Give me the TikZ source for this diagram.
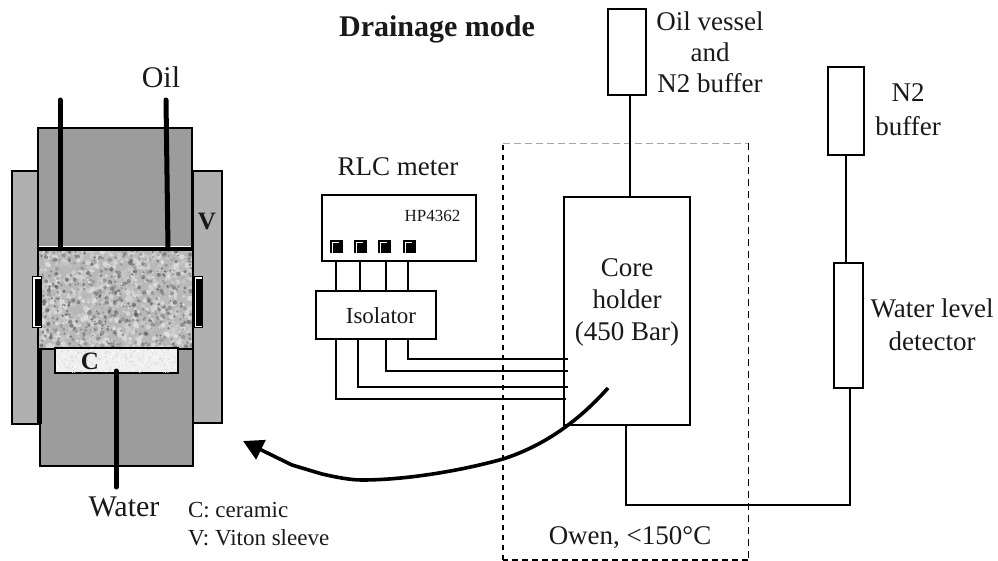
\documentclass[tikz,border=0pt]{standalone}
\usepackage{fontspec}
\setmainfont{Liberation Serif}
\usetikzlibrary{arrows.meta}
\newcommand{\fs}[1]{\fontsize{#1}{#1}\selectfont}
\tikzset{
  box/.style={draw=black,line width=1.7pt,fill=white,inner sep=0pt,outer sep=0pt,align=center,font=\fs{23}},
  wire/.style={draw=black,line width=1.6pt},
  tube/.style={draw=black,line width=5pt,line cap=round},
  lbl/.style={inner sep=0pt,outer sep=0pt,align=center,text=black!90},
  body/.style={draw=black,line width=1.8pt,fill=black!39},
  sleeve/.style={draw=black,line width=1.8pt,fill=black!31},
  socket/.style={draw=black,fill=black,line width=0.5pt,minimum width=12pt,minimum height=12pt,inner sep=0pt,outer sep=0pt},
}
\begin{document}
\begin{tikzpicture}[x=1pt,y=-1pt]
\useasboundingbox (0,0) rectangle (998,561);
% sleeves
\path[sleeve] (12,171) rectangle (38,424);
\path[sleeve] (193,171) rectangle (222,423);
% top piston
\path[body] (38,128) rectangle (192,248);
% bottom piston
\path[body] (40,348) rectangle (193,466);
\draw[line width=3pt] (40,348) -- (40,424);
\draw[line width=2.5pt] (193,348) -- (193,423);
% core sample
\fill[black!28] (38,250) rectangle (192,348);
\begin{scope}
\clip (38,250) rectangle (192,348);
\pgfmathsetseed{4242}
\foreach \i in {1,...,1300}{
  \pgfmathsetmacro{\xx}{38+154*rnd}
  \pgfmathsetmacro{\yy}{250+98*rnd}
  \pgfmathsetmacro{\gg}{8+22*rnd}
  \pgfmathsetmacro{\rr}{1.0+1.8*rnd}
  \fill[black!\gg,opacity=0.7] (\xx,\yy) circle[radius=\rr pt];
}
\foreach \i in {1,...,500}{
  \pgfmathsetmacro{\xx}{38+154*rnd}
  \pgfmathsetmacro{\yy}{250+98*rnd}
  \pgfmathsetmacro{\gg}{45+30*rnd}
  \pgfmathsetmacro{\rr}{0.8+1.5*rnd}
  \fill[black!\gg,opacity=0.55] (\xx,\yy) circle[radius=\rr pt];
}
\end{scope}
\draw[line width=0.8pt] (38,250) -- (38,348) (192,250) -- (192,348);
\draw[white,line width=1pt] (39,246.8) -- (191,246.8);
\draw[line width=3.5pt] (38,249.5) -- (192,249.5);
\draw[line width=2.5pt] (40,349) -- (193,349);
% ceramic
\path[draw=black,line width=2pt,fill=black!6] (55,348) rectangle (178,373);
\begin{scope}
\clip (56,349) rectangle (177,372);
\pgfmathsetseed{77}
\foreach \i in {1,...,350}{
  \pgfmathsetmacro{\xx}{56+121*rnd}
  \pgfmathsetmacro{\yy}{349+23*rnd}
  \pgfmathsetmacro{\gg}{0+16*rnd}
  \fill[black!\gg] (\xx,\yy) circle[radius=1pt];
}
\end{scope}
% pads
\path[draw=black,line width=1pt,fill=white] (32,277) rectangle (41,327);
\fill[black] (35,279) rectangle (41,326);
\path[draw=black,line width=1pt,fill=white] (194,277) rectangle (202,327);
\fill[black] (196,279) rectangle (202,326);
% tubes
\coordinate (oilA) at (60,100); \coordinate (oilAe) at (60,249);
\coordinate (oilB) at (166,100); \coordinate (oilBe) at (168,249);
\coordinate (watA) at (116,371); \coordinate (watB) at (116,487);
\draw[tube] (oilA) -- (oilAe);
\draw[tube] (oilB) -- (oilBe);
\draw[tube] (watA) -- (watB);
% left labels
\node[lbl,font=\fs{30}] (oil) at (161,77) {Oil};
\node[lbl,font=\fs{30}] (water) at (124,507) {Water};
\node[lbl,font=\bfseries\fs{25}] (vlab) at (207,222) {V};
\node[lbl,font=\bfseries\fs{25}] (clab) at (90,361) {C};
\node[lbl,font=\fs{23},anchor=west] (cer) at (188,510) {C: ceramic};
\node[lbl,font=\fs{23},anchor=west] (vit) at (188,538) {V: Viton sleeve};
\node[lbl,font=\bfseries\fs{30}] (title) at (437,29) {Drainage mode};
% oven
\draw[line width=1.8pt,dash pattern=on 5pt off 5pt] (503,560) -- (503,143);
\draw[draw=black!35,line width=0.8pt,dash pattern=on 7pt off 4pt] (503,143) -- (748,143);
\draw[line width=1pt,dash pattern=on 7pt off 5pt] (748,143) -- (748,560);
\draw[line width=1.6pt,dash pattern=on 6pt off 4pt] (748,560) -- (503,560);
\node[lbl,font=\fs{27}] (owen) at (630,538) {Owen, <150°C};
% boxes
\node[box,minimum width=154pt,minimum height=66pt] (rlc) at (399,228) {};
\node[lbl,font=\fs{17}] (hp) at (432.5,215.5) {HP4362};
\node[lbl,font=\fs{27}] (rlclab) at (398,167) {RLC meter};
\node[socket] (s1) at (336,246) {};
\node[socket] (s2) at (360,246) {};
\node[socket] (s3) at (384,246) {};
\node[socket] (s4) at (409,246) {};
\foreach \s in {s1,s2,s3,s4}{
  \draw[white,line width=1pt] ([xshift=2pt,yshift=-3pt]\s.west |- \s.south) |- ([xshift=-3pt,yshift=-2.5pt]\s.north east);
}
\node[box,minimum width=120pt,minimum height=48pt] (iso) at (376,315) {};
\node[lbl,font=\fs{23}] (isolab) at (381,316) {Isolator};
\node[box,minimum width=126pt,minimum height=228pt] (core) at (627,311) {};
\node[lbl,font=\fs{27}] (corelab) at (627,302) {Core\\[5pt]holder\\[5pt](450 Bar)};
\node[box,minimum width=38pt,minimum height=86pt] (oilv) at (627,52) {};
\node[lbl,font=\fs{27}] (oilvlab) at (710,52) {Oil vessel\\[4pt]and\\[4pt]N2 buffer};
\node[box,minimum width=36pt,minimum height=88pt] (n2) at (846,111) {};
\node[lbl,font=\fs{27}] (n2lab) at (908,110) {N2\\[7pt]buffer};
\node[box,minimum width=29pt,minimum height=125pt] (wld) at (848.5,325.5) {};
\node[lbl,font=\fs{27}] (wldlab) at (932,325) {Water level\\[6pt]detector};
% wires rlc-isolator
\foreach \x in {336,360,386,408}{
  \draw[wire] (rlc.south -| \x,0) -- (iso.north -| \x,0);
}
% isolator to core
\coordinate (e1) at (408,359);
\coordinate (e2) at (386,371);
\coordinate (e3) at (358,387);
\coordinate (e4) at (336,399);
\draw[wire] (iso.south -| e1) -- (e1) -- ([xshift=4pt]e1 -| core.west);
\draw[wire] (iso.south -| e2) -- (e2) -- ([xshift=4pt]e2 -| core.west);
\draw[wire] (iso.south -| e3) -- (e3) -- ([xshift=4pt]e3 -| core.west);
\draw[wire] (iso.south -| e4) -- (e4) -- ([xshift=2pt]e4 -| core.west);
% pipes
\draw[wire] (oilv.south -| 630,0) -- (core.north -| 630,0);
\draw[wire] (n2.south) -- (n2.south |- wld.north);
\coordinate (low) at (626,505);
\draw[wire] (low |- core.south) -- (low) -| (850,0 |- wld.south);
% big arrow
\coordinate (arrS) at (608,388);
\coordinate (arrE) at (243,441);
\draw[line width=3.6pt,line join=round,-{Triangle[length=20pt,width=21pt]}] (arrS) .. controls (575,425) and (540,447) .. (503,459) .. controls (460,471) and (405,480) .. (362,480) .. controls (350,480) and (335,477) .. (322,474) -- (292,465) -- (arrE);
\end{tikzpicture}
\end{document}
